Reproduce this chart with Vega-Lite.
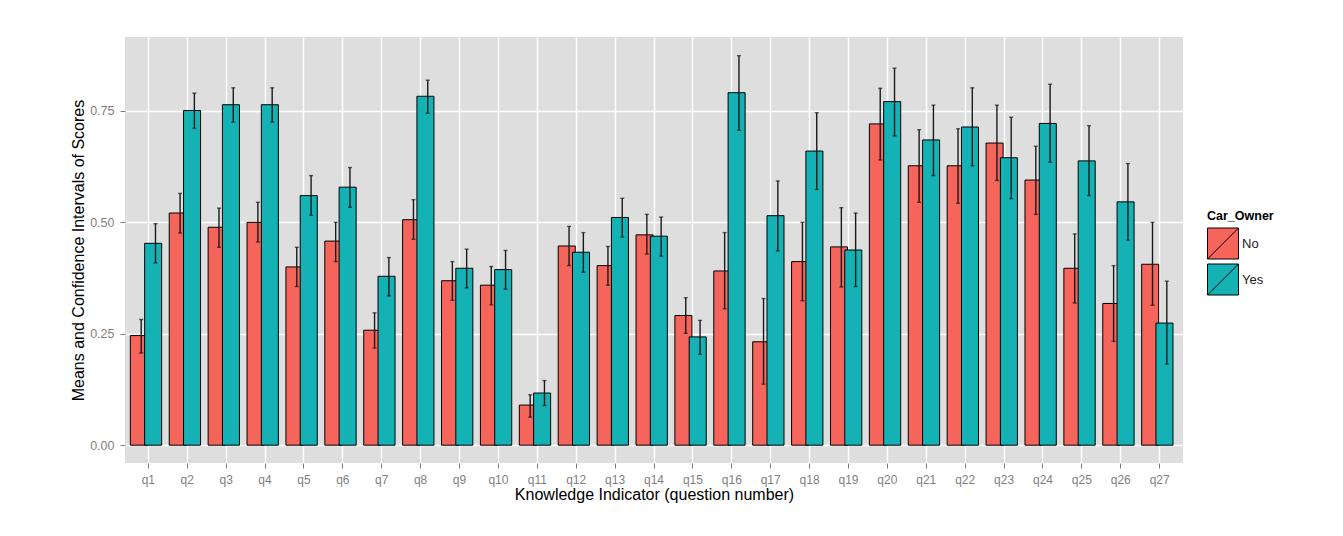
{
  "$schema": "https://vega.github.io/schema/vega-lite/v6.json",
  "width": 1058,
  "height": 426,
  "autosize": {"type": "none"},
  "padding": {"left": 125, "top": 37, "right": 160, "bottom": 73},
  "background": "white",
  "config": {
    "view": {"fill": "#DEDEDE", "stroke": null},
    "font": "Liberation Sans"
  },
  "data": {
    "values": [
      {"q": "q1", "owner": "No", "mean": 0.246, "lo": 0.207, "hi": 0.282},
      {"q": "q2", "owner": "No", "mean": 0.521, "lo": 0.476, "hi": 0.565},
      {"q": "q3", "owner": "No", "mean": 0.489, "lo": 0.444, "hi": 0.532},
      {"q": "q4", "owner": "No", "mean": 0.500, "lo": 0.456, "hi": 0.545},
      {"q": "q5", "owner": "No", "mean": 0.400, "lo": 0.356, "hi": 0.444},
      {"q": "q6", "owner": "No", "mean": 0.458, "lo": 0.412, "hi": 0.500},
      {"q": "q7", "owner": "No", "mean": 0.258, "lo": 0.218, "hi": 0.297},
      {"q": "q8", "owner": "No", "mean": 0.506, "lo": 0.462, "hi": 0.551},
      {"q": "q9", "owner": "No", "mean": 0.369, "lo": 0.325, "hi": 0.412},
      {"q": "q10", "owner": "No", "mean": 0.359, "lo": 0.315, "hi": 0.401},
      {"q": "q11", "owner": "No", "mean": 0.090, "lo": 0.063, "hi": 0.113},
      {"q": "q12", "owner": "No", "mean": 0.447, "lo": 0.403, "hi": 0.491},
      {"q": "q13", "owner": "No", "mean": 0.403, "lo": 0.359, "hi": 0.446},
      {"q": "q14", "owner": "No", "mean": 0.472, "lo": 0.429, "hi": 0.518},
      {"q": "q15", "owner": "No", "mean": 0.291, "lo": 0.251, "hi": 0.331},
      {"q": "q16", "owner": "No", "mean": 0.391, "lo": 0.306, "hi": 0.477},
      {"q": "q17", "owner": "No", "mean": 0.232, "lo": 0.137, "hi": 0.329},
      {"q": "q18", "owner": "No", "mean": 0.412, "lo": 0.324, "hi": 0.500},
      {"q": "q19", "owner": "No", "mean": 0.445, "lo": 0.355, "hi": 0.533},
      {"q": "q20", "owner": "No", "mean": 0.721, "lo": 0.640, "hi": 0.801},
      {"q": "q21", "owner": "No", "mean": 0.627, "lo": 0.545, "hi": 0.708},
      {"q": "q22", "owner": "No", "mean": 0.627, "lo": 0.543, "hi": 0.710},
      {"q": "q23", "owner": "No", "mean": 0.678, "lo": 0.594, "hi": 0.763},
      {"q": "q24", "owner": "No", "mean": 0.595, "lo": 0.518, "hi": 0.671},
      {"q": "q25", "owner": "No", "mean": 0.397, "lo": 0.319, "hi": 0.474},
      {"q": "q26", "owner": "No", "mean": 0.318, "lo": 0.233, "hi": 0.403},
      {"q": "q27", "owner": "No", "mean": 0.406, "lo": 0.314, "hi": 0.500},
      {"q": "q1", "owner": "Yes", "mean": 0.453, "lo": 0.409, "hi": 0.497},
      {"q": "q2", "owner": "Yes", "mean": 0.751, "lo": 0.711, "hi": 0.790},
      {"q": "q3", "owner": "Yes", "mean": 0.764, "lo": 0.725, "hi": 0.802},
      {"q": "q4", "owner": "Yes", "mean": 0.764, "lo": 0.725, "hi": 0.802},
      {"q": "q5", "owner": "Yes", "mean": 0.560, "lo": 0.516, "hi": 0.605},
      {"q": "q6", "owner": "Yes", "mean": 0.579, "lo": 0.534, "hi": 0.623},
      {"q": "q7", "owner": "Yes", "mean": 0.379, "lo": 0.335, "hi": 0.421},
      {"q": "q8", "owner": "Yes", "mean": 0.783, "lo": 0.745, "hi": 0.819},
      {"q": "q9", "owner": "Yes", "mean": 0.397, "lo": 0.353, "hi": 0.440},
      {"q": "q10", "owner": "Yes", "mean": 0.394, "lo": 0.350, "hi": 0.437},
      {"q": "q11", "owner": "Yes", "mean": 0.117, "lo": 0.089, "hi": 0.145},
      {"q": "q12", "owner": "Yes", "mean": 0.433, "lo": 0.388, "hi": 0.477},
      {"q": "q13", "owner": "Yes", "mean": 0.511, "lo": 0.467, "hi": 0.554},
      {"q": "q14", "owner": "Yes", "mean": 0.469, "lo": 0.424, "hi": 0.512},
      {"q": "q15", "owner": "Yes", "mean": 0.243, "lo": 0.204, "hi": 0.280},
      {"q": "q16", "owner": "Yes", "mean": 0.791, "lo": 0.707, "hi": 0.874},
      {"q": "q17", "owner": "Yes", "mean": 0.515, "lo": 0.436, "hi": 0.593},
      {"q": "q18", "owner": "Yes", "mean": 0.660, "lo": 0.574, "hi": 0.746},
      {"q": "q19", "owner": "Yes", "mean": 0.438, "lo": 0.356, "hi": 0.521},
      {"q": "q20", "owner": "Yes", "mean": 0.771, "lo": 0.694, "hi": 0.846},
      {"q": "q21", "owner": "Yes", "mean": 0.685, "lo": 0.605, "hi": 0.763},
      {"q": "q22", "owner": "Yes", "mean": 0.714, "lo": 0.627, "hi": 0.802},
      {"q": "q23", "owner": "Yes", "mean": 0.645, "lo": 0.553, "hi": 0.736},
      {"q": "q24", "owner": "Yes", "mean": 0.722, "lo": 0.635, "hi": 0.810},
      {"q": "q25", "owner": "Yes", "mean": 0.638, "lo": 0.560, "hi": 0.717},
      {"q": "q26", "owner": "Yes", "mean": 0.546, "lo": 0.460, "hi": 0.632},
      {"q": "q27", "owner": "Yes", "mean": 0.274, "lo": 0.182, "hi": 0.368}
    ]
  },
  "encoding": {
    "x": {
      "field": "q",
      "type": "nominal",
      "sort": null,
      "scale": {"paddingInner": 0, "paddingOuter": 0.1},
      "axis": {
        "title": "Knowledge Indicator (question number)",
        "titleFontSize": 16,
        "titleFontWeight": "normal",
        "titleColor": "black",
        "titlePadding": 1,
        "labelAngle": 0,
        "labelColor": "#7F7F7F",
        "labelFontSize": 12,
        "labelPadding": 6,
        "tickColor": "#7F7F7F",
        "tickSize": 5,
        "domain": false,
        "grid": true,
        "gridColor": "white",
        "gridWidth": 1.5,
        "bandPosition": 0.5
      }
    },
    "xOffset": {
      "field": "owner",
      "type": "nominal",
      "scale": {"paddingInner": 0, "paddingOuter": 0.36}
    }
  },
  "layer": [
    {
      "mark": {"type": "bar", "stroke": "black", "strokeWidth": 1, "width": {"band": 1.19}},
      "encoding": {
        "y": {
          "field": "mean",
          "type": "quantitative",
          "scale": {"domain": [-0.04, 0.916], "nice": false, "zero": false},
          "axis": {
            "title": "Means and Confidence Intervals of Scores",
            "titleFontSize": 16,
            "titleFontWeight": "normal",
            "titleColor": "black",
            "titlePadding": 3,
            "values": [0, 0.25, 0.5, 0.75],
            "format": ".2f",
            "labelColor": "#7F7F7F",
            "labelFontSize": 12.5,
            "labelPadding": 6,
            "tickColor": "#7F7F7F",
            "tickSize": 5,
            "domain": false,
            "grid": true,
            "gridColor": "white",
            "gridWidth": 1.5
          }
        },
        "y2": {"datum": 0},
        "fill": {
          "field": "owner",
          "type": "nominal",
          "scale": {"domain": ["No", "Yes"], "range": ["#F5655C", "#14B2B5"]},
          "legend": {
            "title": "Car_Owner",
            "orient": "none",
            "legendX": 1082,
            "legendY": 173,
            "titleFontSize": 12.5,
            "titleFontWeight": "bold",
            "titleColor": "black",
            "titlePadding": 5,
            "symbolType": "M-1,-1H1V1H-1Z M-1,1L1,-1",
            "symbolSize": 961,
            "symbolStrokeColor": "black",
            "symbolStrokeWidth": 1,
            "symbolOpacity": 1,
            "labelFontSize": 13,
            "labelColor": "#222222",
            "labelOffset": 3,
            "rowPadding": 0
          }
        }
      }
    },
    {
      "mark": {"type": "rule", "strokeWidth": 1.4, "color": "#1a1a1a"},
      "encoding": {
        "y": {"field": "lo", "type": "quantitative"},
        "y2": {"field": "hi"}
      }
    },
    {
      "mark": {"type": "tick", "thickness": 1.4, "size": 4, "color": "#1a1a1a"},
      "encoding": {"y": {"field": "lo", "type": "quantitative"}}
    },
    {
      "mark": {"type": "tick", "thickness": 1.4, "size": 4, "color": "#1a1a1a"},
      "encoding": {"y": {"field": "hi", "type": "quantitative"}}
    }
  ]
}
